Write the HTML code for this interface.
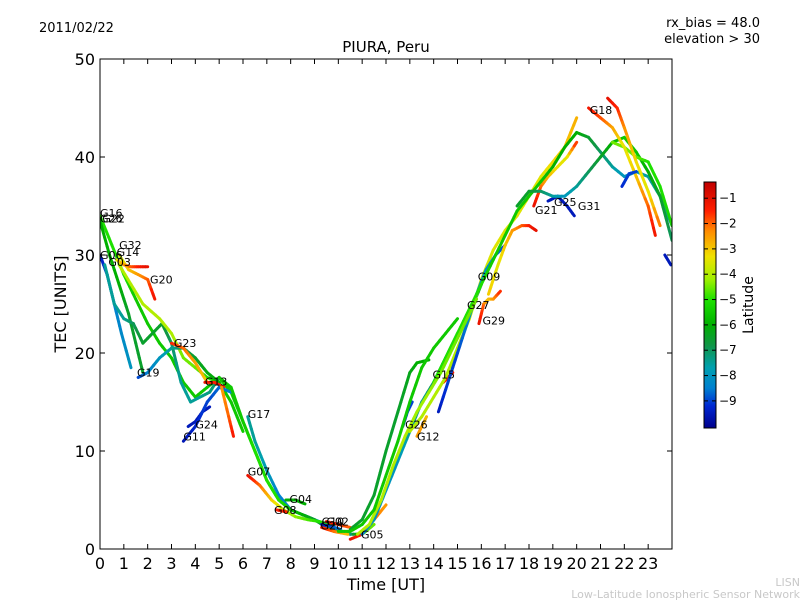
<!DOCTYPE html>
<html><head><meta charset="utf-8"><style>
html,body{margin:0;padding:0;background:#fff}
svg{display:block;font-family:"DejaVu Sans","Liberation Sans",sans-serif}
</style></head><body>
<svg id="chart" width="800" height="600" viewBox="0 0 800 600" xmlns="http://www.w3.org/2000/svg">
<rect x="0" y="0" width="800" height="600" fill="#fff"/>
<text x="39" y="32" font-size="13">2011/02/22</text>
<text x="760" y="27" font-size="13" text-anchor="end">rx_bias = 48.0</text>
<text x="760" y="43" font-size="13" text-anchor="end">elevation &gt; 30</text>
<text x="386" y="52" font-size="15" text-anchor="middle">PIURA, Peru</text>
<g id="plot"></g>
<g id="axes"></g>
<text x="386" y="590" font-size="16" text-anchor="middle">Time [UT]</text>
<text x="66" y="304" font-size="16" text-anchor="middle" transform="rotate(-90 66 304)">TEC [UNITS]</text>
<g id="cbar"></g>
<text x="753" y="305" font-size="14" text-anchor="middle" transform="rotate(-90 753 305)">Latitude</text>
<text x="800" y="586" font-size="11" fill="#c8c8c8" text-anchor="end">LISN</text>
<text x="800" y="598" font-size="11" fill="#c8c8c8" text-anchor="end">Low-Latitude Ionospheric Sensor Network</text>
</svg>
<script>
// ---- data ----
const xTicks = [0,1,2,3,4,5,6,7,8,9,10,11,12,13,14,15,16,17,18,19,20,21,22,23];
const yTicks = [0,10,20,30,40,50];
const cbarTicks = [-1,-2,-3,-4,-5,-6,-7,-8,-9];
const trackNames = ["G16","G22","G06","G03","G32","G14","G20","G19","G23","G13","G24","G11","G13b","G17","main-fall","G07","G08","G04","G10","G02","G28","G05","rise-a","G27","G26","G12","G15","rise-b","G29","G09","orange-17","G21","G25","peak-20","peak-22","right-green","G18","G18b","blue-22","right-blue","rise-c","rise-d"];
const trackTimes = [
 [0,0.5,1,1.5,2,2.5,3,3.5,4,4.5,5,5.5,6,6.5,7,7.5,8],
 [0,0.4,0.8,1.2,1.6,1.8],
 [0,0.3,0.6,0.9,1.3],
 [0.2,0.6,1,1.4,1.8,2.2,2.6,3,3.4,3.8,4.2,4.6,5],
 [0.8,1.2,1.6,2,2.3],
 [0.7,1,1.3,1.6,2],
 [0.8,1.3,1.8,2.5,3,3.5,4,4.5,5,5.5,6],
 [1.6,2,2.5,3,3.5,4,4.5,5],
 [3,3.5,4,4.5],
 [4.4,4.8,5.2],
 [3.7,4,4.3,4.6],
 [3.5,4,4.5,5,5.5],
 [5.1,5.4,5.6],
 [6.2,6.5,7,7.5,8,8.5,9,9.5],
 [5,5.5,6,6.5,7,7.5,8,8.5,9,9.5,10,10.5,11,11.5],
 [6.2,6.7,7.2,7.7,8.2,8.7,9.2,9.8],
 [7.4,7.8],
 [7.8,8.2,8.6],
 [9.3,9.7,10.1],
 [9.5,10,10.5],
 [9.3,9.8,10.4],
 [10.5,11,11.5,12],
 [10.5,11,11.5,12,12.5,13,13.3,13.8],
 [11,11.5,12,12.5,13,13.5,14,14.5,15,15.5,16],
 [12.7,12.9,13.1],
 [13.3,13.5,13.7],
 [14.4,14.6,14.8],
 [13,13.5,14,14.5,15,15.5,16,16.5,17,17.5,18,18.5,19,19.5,20],
 [15.9,16.1,16.3,16.5,16.8],
 [14.2,14.6,15,15.4,15.8,16.2,16.6,17],
 [16.3,16.7,17,17.3,17.7,18,18.3],
 [18.2,18.5,18.8,19.2,19.6,20],
 [18.8,19.2,19.6,19.9],
 [14,14.5,15,15.5,16,16.5,17,17.5,18,18.5,19,19.5,20,20.5,21,21.5,22,22.5,23,23.5,24],
 [17.5,18,18.5,19,19.5,20,20.5,21,21.5,22,22.5,23,23.5,24],
 [21.5,22,22.5,23,23.5,24],
 [20.5,21,21.5,22,22.5,23,23.3],
 [21.3,21.7,22,22.5,23,23.5],
 [21.9,22.2,22.5],
 [23.7,23.95],
 [10.8,11.3,11.8,12.3,12.8,13.3,13.8,14.3,14.8,15.3,15.8],
 [10,10.5,11,11.5,12,12.5,13,13.5,14,14.5,15]
];
const trackTec = [
 [34,31,28,25.5,23,21,19.5,17,15.5,16.5,17.5,16,13,10,7,5,4],
 [33.5,30,27,24,20,18],
 [30,28,25,22,18.5],
 [29,25,23.5,23,21,22,23,21,17,15,15.5,16,17.5],
 [30,28.5,28,27.5,25.5],
 [29.5,29,28.8,28.8,28.8],
 [29,27,25,23.5,22,19.5,18.5,17.5,17,15,12],
 [17.5,18,19.5,20.5,20.5,19.5,18,17],
 [21,20.5,19,17],
 [17,17,16.5],
 [12.5,13,14,14.5],
 [11,12.5,15,16.5,16],
 [16.5,13.5,11.5],
 [13.5,11,8,5.5,4,3.5,3,2.5],
 [17.5,16.5,13,10,7,5,4,3.5,3,2.2,1.8,1.5,1.5,2.5],
 [7.5,6.5,5,4,3.3,3,2.8,2.4],
 [4,3.8],
 [5,5,4.6],
 [2.5,2.3,2],
 [2.8,2.5,2.2],
 [2.2,1.8,1.5],
 [1,1.5,3,4.5],
 [2,3,5.5,10,14,18,19,19.3],
 [1.5,3,6,9,12,15,17,19.5,22,24,27],
 [12.5,14,15],
 [11.5,12.5,13.5],
 [17,17.5,18],
 [12,13.5,15.5,17.5,20.5,23.5,27.5,30.5,32.5,34,36,38,39.5,41,44],
 [23,25,25.5,25.5,26.3],
 [14,17,20,23,26,28.5,30,31],
 [26,29,31,32.5,33,33,32.5],
 [35,37,38,39,40,41.5],
 [35.5,36,35,34],
 [17,19.5,22,24.5,27,29.5,32,34.5,36,37.5,39,41,42.5,42,40.5,39,38,38.5,38,36,33],
 [35,36.5,36.5,36,36,37,38.5,40,41.5,42,40.5,38.5,36,31.5],
 [41.5,41,40,39.5,37,33],
 [45,44,43,41,38,35,32],
 [46,45,43,39.5,36.5,33],
 [37,38.3,38.5],
 [30,29],
 [1.5,2.5,5,8.5,11.5,14,16,18,20.5,23,25.5],
 [1.8,1.8,2.5,4,7.5,11,15,18.5,20.5,22,23.5]
];
const trackLat = [
 [-5,-5,-5,-5.5,-5.5,-5.5,-5.5,-5.5,-5.5,-5.5,-5.5,-5.5,-5.5,-5.5,-5.5,-5.5,-5.5],
 [-6,-6,-6,-6.5,-6.5,-6.5],
 [-9.5,-9,-8.5,-8.3,-8],
 [-7.5,-7.5,-7.5,-7,-6.5,-6.5,-6.5,-7,-7.5,-7.5,-7.5,-7.3,-7],
 [-4,-3,-2.5,-2,-1.2],
 [-3.5,-2.5,-2,-1.5,-1],
 [-4,-4,-4,-4,-4,-4.5,-4.5,-5,-5.5,-5.5,-5.5],
 [-9,-8.5,-8,-7.5,-7,-6.5,-6.2,-6],
 [-1.5,-2,-2.5,-3],
 [-1.2,-1.5,-1.5],
 [-9.5,-9.5,-9.5,-9.5],
 [-9.6,-9.3,-9,-8.7,-8.5],
 [-2.5,-2,-1.3],
 [-7.5,-7.5,-7.8,-8.5,-8.5,-8,-8,-8],
 [-5.5,-5.5,-5.5,-5,-5,-5,-5.5,-6,-6.5,-6.5,-7,-7.5,-5,-4.5],
 [-1,-2,-3,-3.8,-4.3,-4.7,-5,-5],
 [-1.5,-1.5],
 [-6,-6,-6],
 [-9.5,-9,-8.5],
 [-1.2,-1.5,-2],
 [-1.3,-2,-3],
 [-1,-1.5,-2,-2.5],
 [-6.5,-6.5,-6.5,-6.5,-6.5,-6.3,-6,-6],
 [-8.5,-8,-8,-8,-7.5,-7.5,-7,-7,-6.5,-6.5,-6.5],
 [-9.3,-9,-9],
 [-2.5,-2.5,-2.8],
 [-1.5,-1.3,-1.2],
 [-4,-4,-4,-4,-4,-3.8,-3.8,-3.5,-3.5,-3.5,-3.5,-3.5,-3.2,-3,-2.7],
 [-1,-2,-3,-2.5,-1.5],
 [-9.5,-9,-9,-8.5,-8,-8,-8.5,-9],
 [-3,-3.5,-3,-2.5,-2,-1.5,-1],
 [-1,-2,-2.8,-3.3,-3.5,-1.5],
 [-9.5,-9.5,-9.5,-9.5],
 [-5,-5,-5,-5,-5,-5.5,-5.5,-5.5,-5.5,-5.5,-6,-6,-6,-6.5,-7,-7.5,-8,-8,-7.5,-7.5,-8],
 [-6.5,-6.5,-7,-7.5,-8,-7.5,-7,-6.5,-6,-5.5,-5.5,-6,-6.5,-7],
 [-4.5,-4.5,-4.5,-5,-5,-5.2],
 [-1.2,-1.8,-2.5,-3.5,-3,-2,-1.2],
 [-1,-1.5,-2.3,-3.2,-3.5,-2],
 [-9.2,-9,-9],
 [-9.5,-9.5],
 [-4,-4,-4,-4,-4,-4.2,-4.2,-4.5,-4.5,-4.5,-4.5],
 [-5.5,-5.5,-5.5,-5.5,-5.5,-5.5,-5.5,-5.5,-5.5,-5.5,-5.5]
];
const labelNames = ["G16","G26","G22","G32","G14","G06","G03","G20","G23","G19","G13","G24","G11","G17","G07","G08","G04","G10","G02","G28","G05","G26","G12","G15","G27","G09","G29","G21","G25","G31","G18"];
const labelTimes = [0,0,0.1,0.8,0.7,0,0.35,2.1,3.1,1.55,4.4,4.0,3.5,6.2,6.2,7.3,7.95,9.3,9.5,9.25,10.95,12.8,13.3,13.95,15.4,15.85,16.05,18.25,19.05,20.05,20.55];
const labelTec = [34.3,33.7,33.7,31,30.3,30,29.3,27.5,21,18,17.1,12.7,11.5,13.8,7.9,4,5.1,2.8,2.8,2.4,1.5,12.7,11.5,17.8,24.9,27.8,23.3,34.6,35.4,35,44.8];
// ---- axis funcs ----
const X0=100,X1=672,Y0=59,Y1=549;
const xs = t => X0 + (t/24)*(X1-X0);
const ys = v => Y1 - (v/50)*(Y1-Y0);
const CB_TOP=182,CB_BOT=428,CB_MAX=-0.36,CB_MIN=-10.07;
const cy = l => CB_TOP + (CB_MAX-l)/(CB_MAX-CB_MIN)*(CB_BOT-CB_TOP);
const stops = [[-0.36,[192,0,0]],[-1.5,[255,30,0]],[-2.3,[255,140,0]],[-3.3,[240,225,0]],[-4.2,[160,240,0]],[-5,[30,225,0]],[-6,[0,176,0]],[-6.8,[16,150,70]],[-7.7,[0,160,176]],[-8.5,[0,128,208]],[-9.2,[0,40,210]],[-10.07,[0,0,140]]];
function col(l){
  if(l>=stops[0][0]) return `rgb(${stops[0][1]})`;
  for(let i=0;i<stops.length-1;i++){
    const a=stops[i],b=stops[i+1];
    if(l<=a[0]&&l>=b[0]){const f=(a[0]-l)/(a[0]-b[0]);
      const c=a[1].map((v,k)=>Math.round(v+(b[1][k]-v)*f));return `rgb(${c.join(',')})`;}
  }
  return `rgb(${stops[stops.length-1][1]})`;
}
const NS="http://www.w3.org/2000/svg";
function mk(tag,attrs,parent){const e=document.createElementNS(NS,tag);for(const k in attrs)e.setAttribute(k,attrs[k]);parent.appendChild(e);return e;}
const plot=document.getElementById('plot'),axes=document.getElementById('axes'),cbar=document.getElementById('cbar');
const defs=mk('defs',{},plot);
const cp=mk('clipPath',{id:'pc'},defs);mk('rect',{x:X0,y:Y0,width:X1-X0,height:Y1-Y0},cp);
const tg=mk('g',{'clip-path':'url(#pc)'},plot);
trackNames.forEach((nm,i)=>{
  const g=mk('g',{},tg);
  
  
  const T=trackTimes[i],V=trackTec[i],L=trackLat[i];
  for(let j=0;j<T.length-1;j++){
    const steps=4;
    for(let s=0;s<steps;s++){
      const f0=s/steps,f1=(s+1)/steps;
      const t0=T[j]+(T[j+1]-T[j])*f0,t1=T[j]+(T[j+1]-T[j])*f1;
      const v0=V[j]+(V[j+1]-V[j])*f0,v1=V[j]+(V[j+1]-V[j])*f1;
      const l=L[j]+(L[j+1]-L[j])*(f0+f1)/2;
      const ln=mk('line',{x1:xs(t0),y1:ys(v0),x2:xs(t1),y2:ys(v1),stroke:col(l),'stroke-width':3,'stroke-linecap':'round'},g);
      
      
    }
  }
});
labelNames.forEach((nm,i)=>{
  const t=mk('text',{x:xs(labelTimes[i]),y:ys(labelTec[i])+4,'font-size':11,fill:'#000'},plot);
  t.textContent=nm;
  
  
});
const fr=mk('rect',{x:X0,y:Y0,width:X1-X0,height:Y1-Y0,fill:'none',stroke:'#000','stroke-width':1},axes);


xTicks.forEach(t=>{
  const x=xs(t);
  mk('line',{x1:x,y1:Y1,x2:x,y2:Y1-5,stroke:'#000'},axes);
  mk('line',{x1:x,y1:Y0,x2:x,y2:Y0+5,stroke:'#000'},axes);
  const tx=mk('text',{x:x,y:Y1+20,'font-size':16,'text-anchor':'middle'},axes);
  tx.textContent=t;
  
  
});
yTicks.forEach(v=>{
  const y=ys(v);
  mk('line',{x1:X0,y1:y,x2:X0+5,y2:y,stroke:'#000'},axes);
  mk('line',{x1:X1,y1:y,x2:X1-5,y2:y,stroke:'#000'},axes);
  const tx=mk('text',{x:X0-5,y:y+6,'font-size':16,'text-anchor':'end'},axes);
  tx.textContent=v;
  
  
});
const lg=mk('linearGradient',{id:'cg',x1:0,y1:0,x2:0,y2:1},defs);
stops.forEach(s=>{mk('stop',{offset:(CB_MAX-s[0])/(CB_MAX-CB_MIN),'stop-color':`rgb(${s[1]})`},lg);});
const cr=mk('rect',{x:704,y:CB_TOP,width:12,height:CB_BOT-CB_TOP,fill:'url(#cg)',stroke:'#000','stroke-width':1},cbar);


cbarTicks.forEach(l=>{
  const y=cy(l);
  mk('line',{x1:704,y1:y,x2:708,y2:y,stroke:'#000'},cbar);
  mk('line',{x1:716,y1:y,x2:712,y2:y,stroke:'#000'},cbar);
  const tx=mk('text',{x:719,y:y+4,'font-size':12},cbar);
  tx.textContent='\u2212'+Math.abs(l);
  
  
});
</script>
</body></html>
